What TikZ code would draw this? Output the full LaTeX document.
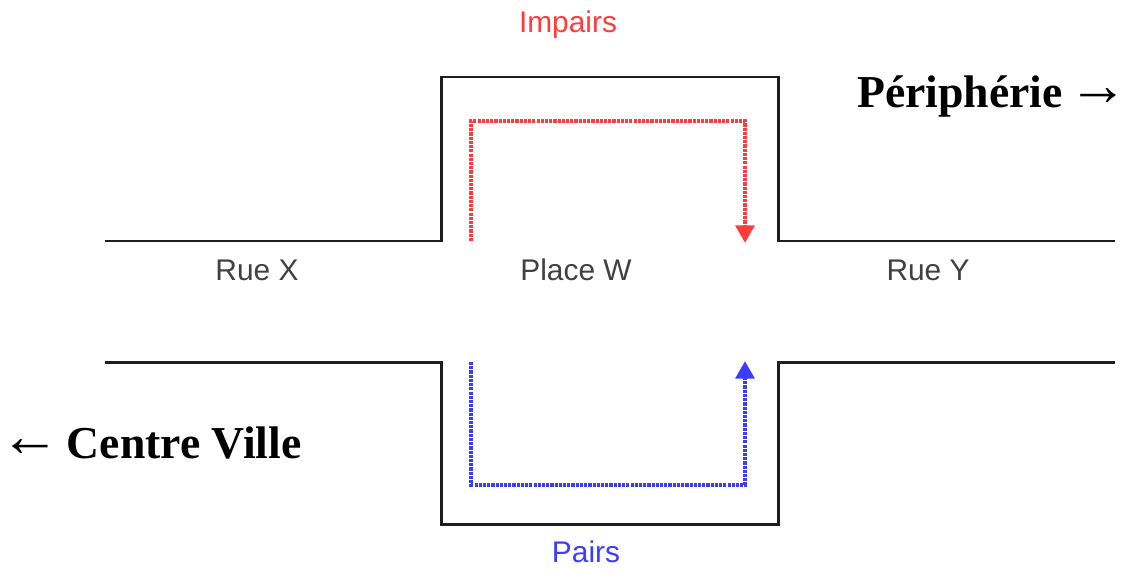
\documentclass[tikz,border=0pt]{standalone}
\usepackage{fontspec}
\setmainfont{Liberation Serif}
\setsansfont{Liberation Sans}
\usetikzlibrary{arrows.meta}
\definecolor{rueline}{HTML}{1E1E1E}
\definecolor{impaircol}{HTML}{FF3C3C}
\definecolor{paircol}{HTML}{3C3CFF}
\newcommand{\bigarrow}[1]{{\fontsize{34}{34}\selectfont\raisebox{1pt}{\makebox[0.85em][l]{#1}}}}
\tikzset{
  road/.style={line width=1.7pt,rueline,line join=miter},
  sens/.style={line width=2.5pt,dash pattern=on 1.8pt off 0.6pt},
  street/.style={font=\sffamily\fontsize{17}{17}\selectfont,text=black!75,inner sep=0pt},
  dirlabel/.style={font=\bfseries\fontsize{26}{26}\selectfont,inner sep=0pt,anchor=base west}
}
\begin{document}
\begin{tikzpicture}[x=0.02cm,y=-0.02cm,>={Triangle[width=10.5pt,length=10pt]}]
      \useasboundingbox (0,0) rectangle (1124,568);
      % bords de la place
      \draw [road] (105,241) -- (441,241) -- (441,77) -- (778,77) -- (778,241) -- (1115,241);
      \draw [road] (105,362) -- (441,362) -- (441,524) -- (778,524) -- (778,362) -- (1115,362);
      % sens de numerotation
      \coordinate (imp0) at (471,241);
      \coordinate (imp1) at (745,243);
      \coordinate (pair0) at (471,362);
      \coordinate (pair1) at (745,361);
      \draw [sens,impaircol,->] (imp0) |- (471,121) -| (imp1);
      \draw [sens,paircol,->] (pair0) |- (471,485) -| (pair1);
      \node [street,text=impaircol] (impairs) at (568,25) {Impairs};
      \node [street,text=paircol] (pairs) at (586,552) {Pairs};
      \node [street] (ruex) at (257,270) {Rue X};
      \node [street] (placew) at (576,270) {Place W};
      \node [street] (ruey) at (928,270) {Rue Y};
      \node [dirlabel] (periph) at (857,107) {Périphérie\hspace{3.5pt}\bigarrow{→}};
      \node [dirlabel] (centre) at (0,458) {\bigarrow{←}\hspace{9pt}Centre Ville};
    \end{tikzpicture}
\end{document}
